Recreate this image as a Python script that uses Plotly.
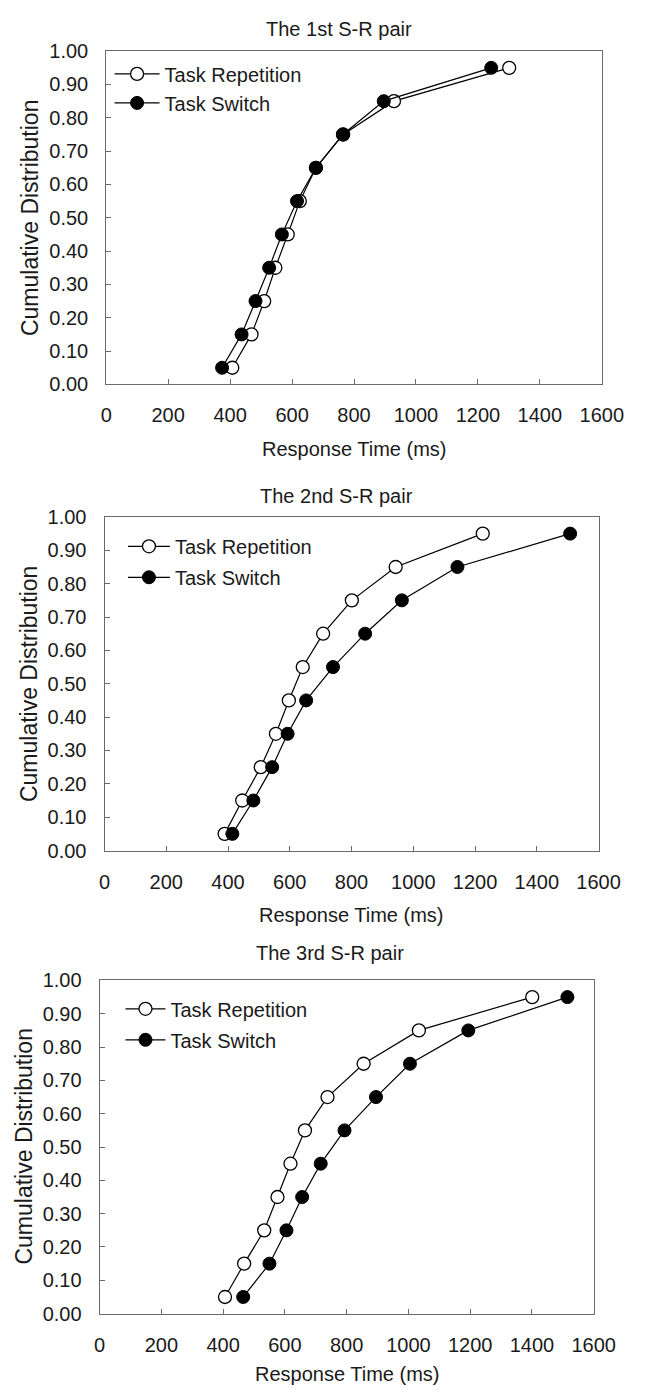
import plotly.graph_objects as go

# page has an 8px default body margin; the figure is sized to fit inside it
PAGE_W, PAGE_H = 649, 1397
OFF = 8
W, H = PAGE_W - 2 * OFF, PAGE_H - 2 * OFF

# ---------------- data ----------------
cum_levels = [0.05, 0.15, 0.25, 0.35, 0.45, 0.55, 0.65, 0.75, 0.85, 0.95]

p1_repetition = [407, 469, 510, 546, 586, 625, 677, 765, 929, 1301]
p1_switch = [374, 437, 482, 526, 567, 616, 677, 764, 896, 1243]

p2_repetition = [389, 446, 506, 555, 597, 642, 708, 801, 943, 1225]
p2_switch = [414, 482, 543, 593, 653, 740, 844, 963, 1143, 1508]

p3_repetition = [406, 468, 533, 576, 618, 665, 738, 855, 1034, 1401]
p3_switch = [465, 550, 605, 656, 716, 793, 895, 1005, 1194, 1515]

panel_titles = ["The 1st S-R pair", "The 2nd S-R pair", "The 3rd S-R pair"]
series_names = ["Task Repetition", "Task Switch"]
x_title = "Response Time (ms)"
y_title = "Cumulative Distribution"
x_ticks = [0, 200, 400, 600, 800, 1000, 1200, 1400, 1600]
y_ticks = [0.0, 0.1, 0.2, 0.3, 0.4, 0.5, 0.6, 0.7, 0.8, 0.9, 1.0]

panels = [(p1_repetition, p1_switch), (p2_repetition, p2_switch), (p3_repetition, p3_switch)]

# ---------------- layout (page pixel boxes) ----------------
boxes = [(104.5, 623, 40.7, 379.3), (102.7, 619.6, 514, 853), (97.6, 614.5, 985, 1323.6)]
title_pos = [(348, 18), (345, 493), (339, 957)]
xtitle_pos = [(364, 445), (361, 918), (357, 1385)]
ytitle_x = [25, 23, 19]
# (legend left, legend top, item width, group gap)
legend_cfg = [(108, 44, 45, 0), (122, 524, 42, 2), (119.4, 994, 40, 2)]

FONT = "Liberation Sans, Arial, sans-serif"
AX = "#6a6a6a"
TXT = "#1a1a1a"


def px_x(v):
    return (v - OFF) / W


def px_y(v):
    return 1 - (v - OFF) / H


fig = go.Figure()
annotations = []
layout = {}

for i, ((rep, sw), (l, r, t, b)) in enumerate(zip(panels, boxes)):
    n = "" if i == 0 else str(i + 1)
    lg = "legend" if i == 0 else f"legend{i + 1}"
    fig.add_trace(go.Scatter(
        x=rep, y=cum_levels, mode="lines+markers", name=series_names[0],
        xaxis=f"x{n}", yaxis=f"y{n}", legend=lg, legendgroup=f"r{i}",
        line=dict(color="black", width=1.2),
        marker=dict(symbol="circle", size=13, color="white",
                    line=dict(color="black", width=1.3)),
    ))
    fig.add_trace(go.Scatter(
        x=sw, y=cum_levels, mode="lines+markers", name=series_names[1],
        xaxis=f"x{n}", yaxis=f"y{n}", legend=lg, legendgroup=f"s{i}",
        line=dict(color="black", width=1.2),
        marker=dict(symbol="circle", size=13, color="black",
                    line=dict(color="black", width=1)),
    ))
    layout[f"xaxis{n}"] = dict(
        domain=[px_x(l), px_x(r)], anchor=f"y{n}", range=[0, 1600],
        tickvals=x_ticks, ticktext=[str(v) for v in x_ticks],
        ticks="inside", ticklen=5, tickcolor=AX, tickwidth=1,
        showline=True, linecolor=AX, linewidth=1, mirror=True,
        showgrid=False, zeroline=False, ticklabelstandoff=13,
        tickfont=dict(family=FONT, size=20, color=TXT),
    )
    layout[f"yaxis{n}"] = dict(
        domain=[px_y(b), px_y(t)], anchor=f"x{n}", range=[0, 1],
        tickvals=y_ticks, ticktext=[f"{v:.2f}" for v in y_ticks],
        ticks="inside", ticklen=5, tickcolor=AX, tickwidth=1,
        showline=True, linecolor=AX, linewidth=1, mirror=True,
        showgrid=False, zeroline=False, ticklabelstandoff=13,
        tickfont=dict(family=FONT, size=20, color=TXT),
    )
    lx, ly, iw, gap = legend_cfg[i]
    layout[lg] = dict(
        x=px_x(lx), y=px_y(ly), xanchor="left", yanchor="top",
        bgcolor="rgba(0,0,0,0)", borderwidth=0, itemwidth=iw,
        tracegroupgap=gap,
        font=dict(family=FONT, size=20, color=TXT),
    )
    tx, ty = title_pos[i]
    annotations.append(dict(text=panel_titles[i], x=px_x(tx), y=px_y(ty),
                            xref="paper", yref="paper", showarrow=False,
                            xanchor="center", yanchor="middle",
                            font=dict(family=FONT, size=20, color=TXT)))
    xx, xy = xtitle_pos[i]
    annotations.append(dict(text=x_title, x=px_x(xx), y=px_y(xy),
                            xref="paper", yref="paper", showarrow=False,
                            xanchor="center", yanchor="middle",
                            font=dict(family=FONT, size=20, color=TXT)))
    annotations.append(dict(text=y_title, x=px_x(ytitle_x[i]), y=px_y((t + b) / 2),
                            xref="paper", yref="paper", showarrow=False,
                            xanchor="center", yanchor="middle", textangle=-90,
                            font=dict(family=FONT, size=23, color=TXT)))

fig.update_layout(
    width=W, height=H, margin=dict(l=0, r=0, t=0, b=0),
    paper_bgcolor="white", plot_bgcolor="white",
    showlegend=True, annotations=annotations, **layout,
)

fig.write_html("out.html", config={"displayModeBar": False})
